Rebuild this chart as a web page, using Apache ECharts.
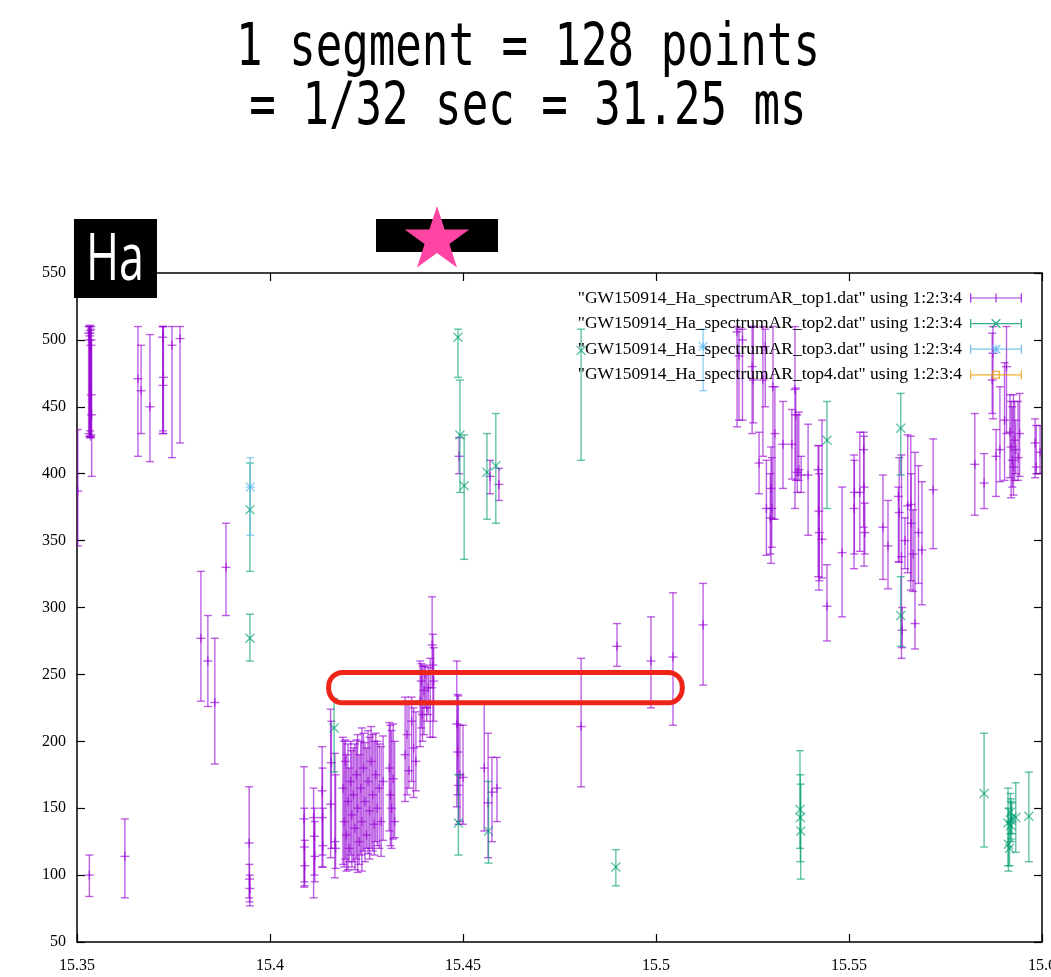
<!DOCTYPE html>
<html><head><meta charset="utf-8">
<script src="https://cdn.jsdelivr.net/npm/echarts@6/dist/echarts.min.js"></script>
<style>html,body{margin:0;padding:0;background:#fff}#c{width:1051px;height:977px}</style>
</head><body><div id="c"></div>
<script>
// [x, y, ylow, yhigh]
const top1 = [
  [15.3502,387,346,433],
  [15.3530,505,430,510],[15.3532,500,428,510],[15.3533,503,427,511],[15.3534,507,432,510],
  [15.3535,428,427,505],[15.3536,496,427,508],[15.3537,459,429,510],[15.3538,444,398,500],
  [15.3532,100,84,115],[15.3624,114,83,142],
  [15.3658,471,413,510],[15.3666,462,430,496],[15.3689,450,409,504],
  [15.3722,502,430,510],[15.3724,472,430,510],[15.3723,466,432,510],
  [15.3746,496,412,510],[15.3767,501,423,510],
  [15.3821,277,230,327],[15.3839,260,226,294],[15.3857,229,183,277],[15.3886,330,294,363],
  [15.3946,124,83,166],[15.3947,97,80,108],[15.3948,90,77,100],
  [15.4088,142,91,181],[15.4089,121,95,150],[15.4090,107,92,126],
  [15.4113,143,83,165],[15.4115,129,100,150],[15.4116,114,95,140],
  [15.4135,163,106,196],[15.4136,143,115,180],[15.4137,122,106,150],
  [15.4157,153,113,224],[15.4159,184,120,215],[15.4168,125,98,191],[15.4170,120,105,175],
  [15.4189,165,108,203],[15.4192,140,106,200],[15.4195,185,112,201],[15.4198,130,103,190],
  [15.4202,155,104,198],[15.4205,120,110,180],[15.4209,170,115,200],[15.4212,145,106,193],
  [15.4216,160,110,195],[15.4220,135,104,198],[15.4224,175,112,201],[15.4227,150,102,205],
  [15.4231,125,108,190],[15.4235,165,115,200],[15.4238,140,103,210],[15.4242,180,118,206],
  [15.4246,155,110,199],[15.4250,130,120,195],[15.4254,170,116,208],[15.4258,148,112,203],
  [15.4262,185,120,211],[15.4266,160,118,205],[15.4270,138,115,200],[15.4274,175,125,206],
  [15.4278,150,122,200],[15.4283,165,120,198],[15.4288,140,114,196],[15.4293,170,126,204],
  [15.4309,180,133,214],[15.4312,160,122,212],[15.4315,150,120,208],[15.4319,172,127,213],
  [15.4323,140,128,200],
  [15.4350,190,155,233],[15.4355,205,160,230],[15.4360,178,165,228],[15.4367,215,170,233],
  [15.4372,195,158,225],[15.4378,185,163,222],
  [15.4389,230,196,260],[15.4392,245,210,258],[15.4395,220,200,256],[15.4399,238,205,257],
  [15.4402,250,225,256],[15.4406,225,215,250],[15.4410,240,220,255],[15.4415,228,203,262],
  [15.4420,272,240,308],[15.4422,257,203,280],[15.4424,245,215,270],
  [15.4484,213,151,260],[15.4486,192,160,235],[15.4488,167,138,234],[15.4490,413,400,427],
  [15.4492,175,140,212],[15.4500,173,138,212],
  [15.4555,180,133,228],[15.4565,154,113,206],[15.4575,162,125,188],[15.4588,165,140,188],
  [15.4570,398,385,410],[15.4593,392,380,404],
  [15.4806,211,166,262],[15.4899,271,256,288],[15.4987,260,225,293],
  [15.5044,263,212,311],[15.5122,287,242,318],
  [15.5210,506,435,510],[15.5215,488,440,508],[15.5224,500,440,508],
  [15.5249,480,430,510],[15.5252,470,438,510],[15.5267,408,385,431],[15.5277,470,413,510],
  [15.5283,495,450,508],[15.5286,374,339,410],[15.5298,389,333,420],[15.5300,374,345,412],
  [15.5296,367,340,400],[15.5303,465,366,510],[15.5308,430,366,465],[15.5329,422,389,454],
  [15.5352,422,396,448],[15.5360,463,374,510],[15.5362,444,395,464],[15.5366,401,386,444],
  [15.5370,403,395,446],[15.5376,399,386,413],[15.5394,399,354,437],
  [15.5420,403,323,421],[15.5422,372,313,421],[15.5423,356,320,400],[15.5430,351,322,440],
  [15.5443,301,275,332],[15.5482,341,293,390],[15.5513,374,329,414],[15.5514,386,340,410],
  [15.5528,386,342,431],[15.5538,418,360,431],[15.5539,390,331,428],[15.5541,356,340,378],
  [15.5588,360,321,399],[15.5601,346,314,380],
  [15.5628,383,334,390],[15.5630,371,334,412],[15.5636,338,262,414],[15.5638,283,270,300],
  [15.5645,350,329,367],[15.5652,376,326,429],[15.5660,377,313,428],[15.5661,363,320,400],
  [15.5666,340,312,373],[15.5671,288,269,416],[15.5680,356,318,406],[15.5689,343,302,394],
  [15.5718,388,344,426],
  [15.5826,407,369,445],[15.5850,393,374,415],[15.5871,470,445,505],[15.5873,490,441,510],
  [15.5881,413,383,433],[15.5891,418,394,465],[15.5903,440,395,483],[15.5908,480,430,510],
  [15.5917,431,397,459],[15.5920,420,382,454],[15.5923,410,390,450],[15.5926,405,384,459],
  [15.5929,425,395,454],[15.5932,418,400,440],[15.5938,412,395,454],[15.5942,430,398,460],
  [15.5982,423,397,441],[15.5985,405,400,436],[15.5995,416,400,436]
];
const top2 = [
  [15.3948,373,327,408],[15.3948,277,260,295],[15.4166,210,177,232],
  [15.4487,502,472,508],[15.4492,429,386,470],[15.4503,391,336,429],[15.4488,139,115,175],
  [15.4562,401,366,430],[15.4585,406,363,445],[15.4566,133,109,170],
  [15.4806,492,410,508],[15.4896,106,92,119],
  [15.5373,149,120,193],[15.5374,143,110,175],[15.5375,133,97,168],
  [15.5443,425,374,454],[15.5634,434,399,460],[15.5634,294,271,323],
  [15.5850,161,121,206],[15.5912,139,107,165],[15.5913,123,103,150],[15.5916,120,107,140],
  [15.5918,147,131,161],[15.5920,141,127,157],[15.5922,143,131,154],[15.5919,137,125,155],
  [15.5932,143,117,169],[15.5966,144,110,177]
];
const top3 = [[15.3949,390,354,412],[15.5122,495,462,508]];
const top4 = [];
const seriesNames = [
  '"GW150914_Ha_spectrumAR_top1.dat" using 1:2:3:4',
  '"GW150914_Ha_spectrumAR_top2.dat" using 1:2:3:4',
  '"GW150914_Ha_spectrumAR_top3.dat" using 1:2:3:4',
  '"GW150914_Ha_spectrumAR_top4.dat" using 1:2:3:4'
];
const titleLines = ['1 segment = 128 points', '= 1/32 sec = 31.25 ms'];

const colors = ['#9400d3', '#009e73', '#56b4e9', '#e69f00'];
const markers = ['plus', 'cross', 'star', 'square'];

function markerShapes(kind, x, y, st) {
  const s = 4.5, out = [];
  const L = (x1, y1, x2, y2) => out.push({type: 'line', shape: {x1, y1, x2, y2}, style: st});
  if (kind === 'plus' || kind === 'star') { L(x - s, y, x + s, y); L(x, y - s, x, y + s); }
  if (kind === 'cross' || kind === 'star') { L(x - s, y - s, x + s, y + s); L(x - s, y + s, x + s, y - s); }
  if (kind === 'square') out.push({type: 'rect', shape: {x: x - 4, y: y - 4, width: 8, height: 8}, style: st});
  return out;
}
function makeRender(color, kind) {
  return function (params, api) {
    const x = api.value(0), y = api.value(1), lo = api.value(2), hi = api.value(3);
    const pt = api.coord([x, hi]), pb = api.coord([x, lo]), pm = api.coord([x, y]);
    const st = {stroke: color, fill: null, lineWidth: 1.4, opacity: 0.62};
    const c = 4;
    const ch = [
      {type: 'line', shape: {x1: pt[0], y1: pt[1], x2: pb[0], y2: pb[1]}, style: st},
      {type: 'line', shape: {x1: pt[0] - c, y1: pt[1], x2: pt[0] + c, y2: pt[1]}, style: st},
      {type: 'line', shape: {x1: pb[0] - c, y1: pb[1], x2: pb[0] + c, y2: pb[1]}, style: st}
    ].concat(markerShapes(kind, pm[0], pm[1], st));
    return {type: 'group', children: ch};
  };
}
const base = 'M0,4.4H52V5.6H0Z M0,0.5H1.3V9.5H0Z M50.7,0.5H52V9.5H50.7Z ';
const legendIcons = [
  'path://' + base + 'M25.4,0.5H26.6V9.5H25.4Z M21.5,4.4H30.5V5.6H21.5Z',
  'path://' + base + 'M21.5,0.5L22.5,0.5L30.5,8.5L30.5,9.5L29.5,9.5L21.5,1.5Z M30.5,0.5L30.5,1.5L22.5,9.5L21.5,9.5L21.5,8.5L29.5,0.5Z',
  'path://' + base + 'M25.4,0.5H26.6V9.5H25.4Z M21.5,0.5L22.5,0.5L30.5,8.5L30.5,9.5L29.5,9.5L21.5,1.5Z M30.5,0.5L30.5,1.5L22.5,9.5L21.5,9.5L21.5,8.5L29.5,0.5Z',
  'path://' + base + 'M22,1H30V9H22Z M23.2,2.2V7.8H28.8V2.2Z'
];
const datasets = [top1, top2, top3, top4];

const chart = echarts.init(document.getElementById('c'));
const axisCommon = {
  type: 'value', splitLine: {show: false}, axisLine: {show: false},
  axisTick: {show: true, inside: true, length: 8, lineStyle: {color: '#000', width: 1.2}}
};
const labelFont = {fontFamily: 'Liberation Serif', fontSize: 16, color: '#000'};
chart.setOption({
  animation: false,
  backgroundColor: '#fff',
  grid: {left: 77, right: 9, top: 273, bottom: 35, show: true, borderColor: '#000', borderWidth: 1.5,
    backgroundColor: 'transparent', outerBoundsMode: 'none', containLabel: false},
  xAxis: [
    Object.assign({}, axisCommon, {position: 'bottom', min: 15.35, max: 15.6, interval: 0.05,
      axisLabel: Object.assign({margin: 16, hideOverlap: false}, labelFont)}),
    Object.assign({}, axisCommon, {position: 'top', min: 15.35, max: 15.6, interval: 0.05, axisLabel: {show: false}})
  ],
  yAxis: [
    Object.assign({}, axisCommon, {position: 'left', min: 50, max: 550, interval: 50,
      axisLabel: Object.assign({margin: 11}, labelFont)}),
    Object.assign({}, axisCommon, {position: 'right', min: 50, max: 550, interval: 50, axisLabel: {show: false}})
  ],
  legend: {
    orient: 'vertical', right: 24, top: 284, align: 'right', itemWidth: 52, itemHeight: 10, itemGap: 7.6,
    selectedMode: false,
    textStyle: {fontFamily: 'Liberation Serif', fontSize: 17.5, color: '#000', padding: [0, 3, 0, 0]},
    data: seriesNames.map((n, i) => ({name: n, icon: legendIcons[i], itemStyle: {color: colors[i], opacity: 0.8}}))
  },
  series: datasets.map((d, i) => ({
    type: 'custom', name: seriesNames[i], xAxisIndex: 0, yAxisIndex: 0,
    itemStyle: {color: colors[i]},
    renderItem: makeRender(colors[i], markers[i]),
    encode: {x: 0, y: [1, 2, 3]},
    data: d, clip: true
  }))
});

// annotations
const p1 = chart.convertToPixel({xAxisIndex: 0, yAxisIndex: 0}, [15.4152, 251.5]);
const p2 = chart.convertToPixel({xAxisIndex: 0, yAxisIndex: 0}, [15.5068, 228.8]);
function starPoints(cx, cy, R, r) {
  const pts = [];
  for (let k = 0; k < 10; k++) {
    const a = -Math.PI / 2 + k * Math.PI / 5, rr = k % 2 ? r : R;
    pts.push([cx + rr * Math.cos(a), cy + rr * Math.sin(a)]);
  }
  return pts;
}
chart.setOption({
  graphic: [
    {type: 'text', x: 528, y: 50, scaleX: 0.76, z: 100,
     style: {text: titleLines[0], font: '58px "DejaVu Sans Mono"', fill: '#000', textAlign: 'center', textVerticalAlign: 'middle'}},
    {type: 'text', x: 528, y: 109, scaleX: 0.76, z: 100,
     style: {text: titleLines[1], font: '58px "DejaVu Sans Mono"', fill: '#000', textAlign: 'center', textVerticalAlign: 'middle'}},
    {type: 'rect', shape: {x: 74, y: 219, width: 83, height: 79}, style: {fill: '#000'}, z: 100},
    {type: 'text', x: 115, y: 261, scaleX: 0.68, z: 101,
     style: {text: 'Ha', font: '66px "Open Sans"', fill: '#fff', textAlign: 'center', textVerticalAlign: 'middle'}},
    {type: 'rect', shape: {x: 376, y: 219, width: 122, height: 33}, style: {fill: '#000'}, z: 100},
    {type: 'polygon', shape: {points: starPoints(437, 240, 34, 13)}, style: {fill: '#ff45a3'}, z: 101},
    {type: 'rect', shape: {x: p1[0], y: p1[1], width: p2[0] - p1[0], height: p2[1] - p1[1], r: 14},
     style: {fill: null, stroke: '#ee2418', lineWidth: 5}, z: 100}
  ]
});
</script></body></html>
